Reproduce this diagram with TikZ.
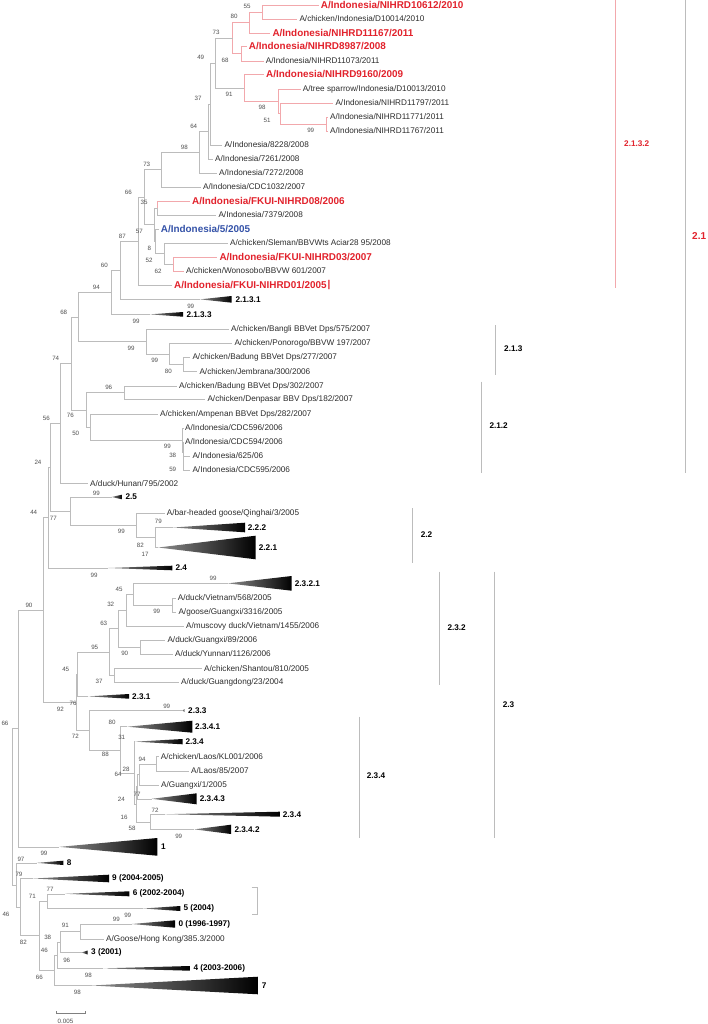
\documentclass[tikz,border=0pt]{standalone}
\usepackage{fontspec}
\setmainfont{Liberation Sans}
\definecolor{brg}{RGB}{188,188,188}
\definecolor{pk}{RGB}{242,168,172}
\definecolor{rd}{RGB}{226,34,44}
\definecolor{bl}{RGB}{52,82,168}
\definecolor{lt}{RGB}{45,45,45}
\definecolor{bt}{RGB}{80,80,80}
\newcommand\fLeaf{\fontsize{8.2}{9}\selectfont}
\newcommand\fBold{\fontsize{9.9}{11}\selectfont\bfseries}
\newcommand\fBs{\fontsize{6.2}{7}\selectfont}
\newcommand\fCl{\fontsize{8.2}{9}\selectfont\bfseries}
\newcommand\fBig{\fontsize{10}{11}\selectfont\bfseries}
\tikzset{
 br/.style={draw=brg, line width=0.6pt},
 pbr/.style={draw=pk, line width=0.6pt},
 lf/.style={anchor=west, inner sep=0pt, font=\fLeaf, text=lt},
 rlf/.style={anchor=west, inner sep=0pt, font=\fBold, text=rd},
 blf/.style={anchor=west, inner sep=0pt, font=\fBold, text=bl},
 bs/.style={inner sep=0pt, font=\fBs, text=bt},
 cl/.style={anchor=west, inner sep=0pt, font=\fCl, text=black},
 tri/.style={left color=black!45, middle color=black, right color=black},
}
\newcounter{bsc}
\newcommand\leaf[5]{\node[#1] (#2) at (#3,#4) {#5}; \coordinate (#2e) at ([xshift=-2pt]#2.west);}
\newcommand\clade[7]{%
 \coordinate (#1) at (#2,{(#4+#5)/2});
 \shade[tri] (#1) -- (#3,#4) -- (#3,#5) -- cycle;
 \node[cl] (#1l) at (#6,{(#4+#5)/2}) {#7};}
\newcommand\bsl[3]{\stepcounter{bsc}\node[bs] (bs\arabic{bsc}) at (#1,#2) {#3};}
\newcommand\ed[3]{\draw[#1] (#2) |- (#3);}
\begin{document}
\begin{tikzpicture}[x=1pt,y=-1pt]
\useasboundingbox (0,0) rectangle (707,1024);
\fill[white] (0,0) rectangle (707,1024);
% ---------- leaves ----------
\leaf{rlf}{l1}{320.7}{5}{A/Indonesia/NIHRD10612/2010}
\leaf{lf}{l2}{299.3}{19}{A/chicken/Indonesia/D10014/2010}
\leaf{rlf}{l3}{272.3}{33}{A/Indonesia/NIHRD11167/2011}
\leaf{rlf}{l4}{248.7}{46.5}{A/Indonesia/NIHRD8987/2008}
\leaf{lf}{l5}{265.7}{61}{A/Indonesia/NIHRD11073/2011}
\leaf{rlf}{l6}{266}{74.5}{A/Indonesia/NIHRD9160/2009}
\leaf{lf}{l7}{302.7}{89}{A/tree sparrow/Indonesia/D10013/2010}
\leaf{lf}{l8}{335.3}{103}{A/Indonesia/NIHRD11797/2011}
\leaf{lf}{l9}{330}{117}{A/Indonesia/NIHRD11771/2011}
\leaf{lf}{l10}{330}{131}{A/Indonesia/NIHRD11767/2011}
\leaf{lf}{l11}{224.3}{145}{A/Indonesia/8228/2008}
\leaf{lf}{l12}{215}{159}{A/Indonesia/7261/2008}
\leaf{lf}{l13}{219}{173}{A/Indonesia/7272/2008}
\leaf{lf}{l14}{203}{187}{A/Indonesia/CDC1032/2007}
\leaf{rlf}{l15}{192}{201}{A/Indonesia/FKUI-NIHRD08/2006}
\leaf{lf}{l16}{218.3}{215}{A/Indonesia/7379/2008}
\leaf{blf}{l17}{160.7}{229}{A/Indonesia/5/2005}
\leaf{lf}{l18}{230}{243}{A/chicken/Sleman/BBVWts Aciar28 95/2008}
\leaf{rlf}{l19}{219.3}{257}{A/Indonesia/FKUI-NIHRD03/2007}
\leaf{lf}{l20}{186}{271}{A/chicken/Wonosobo/BBVW 601/2007}
\leaf{rlf}{l21}{174}{285}{A/Indonesia/FKUI-NIHRD01/2005}
\node[rlf] (bar1) at (327.5,285) {\textbar};
\clade{t1}{200}{231.7}{296}{302.7}{235.3}{2.1.3.1}
\clade{t2}{150}{183}{312}{316.7}{186.3}{2.1.3.3}
\leaf{lf}{l22}{231}{329}{A/chicken/Bangli BBVet Dps/575/2007}
\leaf{lf}{l23}{234.3}{343}{A/chicken/Ponorogo/BBVW 197/2007}
\leaf{lf}{l24}{192.3}{357.7}{A/chicken/Badung BBVet Dps/277/2007}
\leaf{lf}{l25}{199.3}{371.7}{A/chicken/Jembrana/300/2006}
\leaf{lf}{l26}{179}{386}{A/chicken/Badung BBVet Dps/302/2007}
\leaf{lf}{l27}{207.3}{399.5}{A/chicken/Denpasar BBV Dps/182/2007}
\leaf{lf}{l28}{160}{414}{A/chicken/Ampenan BBVet Dps/282/2007}
\leaf{lf}{l29}{185}{428}{A/Indonesia/CDC596/2006}
\leaf{lf}{l30}{185}{442}{A/Indonesia/CDC594/2006}
\leaf{lf}{l31}{192.3}{456}{A/Indonesia/625/06}
\leaf{lf}{l32}{192.3}{470}{A/Indonesia/CDC595/2006}
\leaf{lf}{l33}{90}{483.5}{A/duck/Hunan/795/2002}
\clade{t3}{111.7}{122}{494.7}{499.3}{125.3}{2.5}
\leaf{lf}{l34}{166.7}{513}{A/bar-headed goose/Qinghai/3/2005}
\clade{t4}{173.3}{245}{522.7}{532.3}{247.7}{2.2.2}
\clade{t5}{158.3}{255.7}{535.7}{559.3}{258.7}{2.2.1}
\clade{t6}{108.3}{172.3}{565.7}{570.3}{175.3}{2.4}
\clade{t7}{227.7}{291.7}{576}{590.7}{294.7}{2.3.2.1}
\leaf{lf}{l35}{177.7}{598}{A/duck/Vietnam/568/2005}
\leaf{lf}{l36}{178.3}{612.3}{A/goose/Guangxi/3316/2005}
\leaf{lf}{l37}{186}{626.3}{A/muscovy duck/Vietnam/1455/2006}
\leaf{lf}{l38}{167.3}{640.3}{A/duck/Guangxi/89/2006}
\leaf{lf}{l39}{175}{654}{A/duck/Yunnan/1126/2006}
\leaf{lf}{l40}{204}{668.7}{A/chicken/Shantou/810/2005}
\leaf{lf}{l41}{181}{682.3}{A/duck/Guangdong/23/2004}
\clade{t8}{88.3}{129}{694}{698.7}{132}{2.3.1}
\clade{t9}{182.7}{184.3}{709}{712}{188}{2.3.3}
\clade{t10}{127.3}{192.3}{720.7}{732.7}{195}{2.3.4.1}
\clade{t11}{135}{182.7}{739}{744.3}{185.3}{2.3.4}
\leaf{lf}{l42}{160.7}{756.7}{A/chicken/Laos/KL001/2006}
\leaf{lf}{l43}{191}{771}{A/Laos/85/2007}
\leaf{lf}{l44}{161}{785}{A/Guangxi/1/2005}
\clade{t12}{151.7}{196.7}{793.3}{804.3}{199.7}{2.3.4.3}
\clade{t13}{165}{280}{811.7}{816.7}{282.7}{2.3.4}
\clade{t14}{194.3}{231}{824.7}{834}{234.3}{2.3.4.2}
\clade{t15}{59.3}{157.3}{838}{855.7}{161}{1}
\clade{t16}{36.7}{63.3}{860.7}{865}{66.7}{8}
\clade{t17}{33.3}{109}{874.7}{882.3}{112}{9 (2004-2005)}
\clade{t18}{65}{129.3}{891.3}{896.3}{132.7}{6 (2002-2004)}
\clade{t19}{143.3}{180.3}{906}{911}{183.3}{5 (2004)}
\clade{t20}{131.7}{175}{920.3}{927.7}{178.3}{0 (1996-1997)}
\leaf{lf}{l45}{106}{939.3}{A/Goose/Hong Kong/385.3/2000}
\clade{t21}{81.7}{87.7}{950.5}{954.5}{91}{3 (2001)}
\clade{t22}{103.3}{190}{966}{970.7}{193.3}{4 (2003-2006)}
\clade{t23}{91.7}{258.3}{976.7}{994.3}{261.7}{7}
% ---------- internal nodes ----------
\coordinate (A) at (262.3,12);
\coordinate (B) at (249.3,22.5);
\coordinate (D) at (241.7,53.75);
\coordinate (C) at (232.7,38.1);
\coordinate (I) at (326.7,124);
\coordinate (H) at (280,113.5);
\coordinate (G) at (278.3,101.25);
\coordinate (F) at (244.3,87.9);
\coordinate (E) at (215.7,63);
\coordinate (J) at (210,104);
\coordinate (K) at (208.3,131.5);
\coordinate (L) at (199.3,152.25);
\coordinate (M) at (161.7,169.6);
\coordinate (P) at (157.3,208);
\coordinate (S) at (173.3,264);
\coordinate (R) at (164.3,253.5);
\coordinate (Q2) at (155.5,241.25);
\coordinate (Q1) at (154,224.6);
\coordinate (N) at (144,197.1);
\coordinate (T) at (138,241.05);
\coordinate (U) at (120,270.2);
\coordinate (V) at (111,292.3);
\coordinate (Z) at (183.3,364.7);
\coordinate (Y) at (169.7,353.85);
\coordinate (X) at (146,341.4);
\coordinate (W) at (78.3,316.85);
\coordinate (BB) at (124.3,392.75);
\coordinate (CC3) at (183.5,463);
\coordinate (CC2) at (183,452.5);
\coordinate (CC1) at (182.7,440.25);
\coordinate (EE) at (90,427.1);
\coordinate (FF) at (86,409.9);
\coordinate (II) at (71.7,363.4);
\coordinate (HH) at (60.3,423.45);
\coordinate (MM) at (155.3,537.5);
\coordinate (LL) at (136.7,525.25);
\coordinate (KK) at (70.3,511.1);
\coordinate (JJ) at (50,467.3);
\coordinate (NN) at (48.3,517.65);
\coordinate (QQ) at (172.3,605.15);
\coordinate (PP) at (133.3,594.25);
\coordinate (RR) at (126,610.3);
\coordinate (TT) at (140,647.15);
\coordinate (SS) at (118.3,628.7);
\coordinate (VV) at (114.3,675.5);
\coordinate (UU) at (109.3,652.1);
\coordinate (WW) at (77.3,674.2);
\coordinate (CCC) at (156.7,763.85);
\coordinate (DDD) at (139.3,774.4);
\coordinate (EEE) at (137.7,786.6);
\coordinate (FFF) at (150.3,821.8);
\coordinate (GGG) at (136.3,804.2);
\coordinate (BBB) at (134.3,772.9);
\coordinate (ZZ) at (120,749.8);
\coordinate (YY) at (89.3,730.15);
\coordinate (XX) at (76,702.2);
\coordinate (OO) at (43.7,609.9);
\coordinate (QQQ) at (18.3,728.4);
\coordinate (N77) at (47.7,901.15);
\coordinate (N91) at (80,931.65);
\coordinate (N38) at (60,942.1);
\coordinate (N46) at (57.3,955.2);
\coordinate (N66) at (54,970.35);
\coordinate (TTT) at (39.3,935.75);
\coordinate (UUU) at (20,907.1);
\coordinate (VVV) at (16.7,884.95);
\coordinate (RRR) at (12.7,806.7);
% ---------- branches ----------
\ed{pbr}{A}{l1e} \ed{pbr}{A}{l2e}
\ed{pbr}{B}{A} \ed{pbr}{B}{l3e}
\ed{pbr}{D}{l4e} \ed{pbr}{D}{l5e}
\ed{pbr}{C}{B} \ed{pbr}{C}{D}
\ed{pbr}{I}{l9e} \ed{pbr}{I}{l10e}
\ed{pbr}{H}{l8e} \ed{pbr}{H}{I}
\ed{pbr}{G}{l7e} \ed{pbr}{G}{H}
\ed{pbr}{F}{l6e} \ed{pbr}{F}{G}
\ed{br}{E}{C} \ed{br}{E}{F}
\ed{br}{J}{E} \ed{br}{J}{l11e}
\ed{br}{K}{J} \ed{br}{K}{l12e}
\ed{br}{L}{K} \ed{br}{L}{l13e}
\ed{br}{M}{L} \ed{br}{M}{l14e}
\ed{pbr}{P}{l15e} \ed{br}{P}{l16e}
\ed{pbr}{S}{l19e} \ed{pbr}{S}{l20e}
\ed{br}{R}{l18e} \ed{br}{R}{S}
\ed{br}{Q2}{l17e} \ed{br}{Q2}{R}
\ed{br}{Q1}{P} \ed{br}{Q1}{Q2}
\ed{br}{N}{M} \ed{br}{N}{Q1}
\ed{br}{T}{N} \ed{br}{T}{l21e}
\ed{br}{U}{T} \ed{br}{U}{t1}
\ed{br}{V}{U} \ed{br}{V}{t2}
\ed{br}{Z}{l24e} \ed{br}{Z}{l25e}
\ed{br}{Y}{l23e} \ed{br}{Y}{Z}
\ed{br}{X}{l22e} \ed{br}{X}{Y}
\ed{br}{W}{V} \ed{br}{W}{X}
\ed{br}{BB}{l26e} \ed{br}{BB}{l27e}
\ed{br}{CC3}{l31e} \ed{br}{CC3}{l32e}
\ed{br}{CC2}{l30e} \ed{br}{CC2}{CC3}
\ed{br}{CC1}{l29e} \ed{br}{CC1}{CC2}
\ed{br}{EE}{l28e} \ed{br}{EE}{CC1}
\ed{br}{FF}{BB} \ed{br}{FF}{EE}
\ed{br}{II}{W} \ed{br}{II}{FF}
\ed{br}{HH}{II} \ed{br}{HH}{l33e}
\ed{br}{MM}{t4} \ed{br}{MM}{t5}
\ed{br}{LL}{l34e} \ed{br}{LL}{MM}
\ed{br}{KK}{t3} \ed{br}{KK}{LL}
\ed{br}{JJ}{HH} \ed{br}{JJ}{KK}
\ed{br}{NN}{JJ} \ed{br}{NN}{t6}
\ed{br}{QQ}{l35e} \ed{br}{QQ}{l36e}
\ed{br}{PP}{t7} \ed{br}{PP}{QQ}
\ed{br}{RR}{PP} \ed{br}{RR}{l37e}
\ed{br}{TT}{l38e} \ed{br}{TT}{l39e}
\ed{br}{SS}{RR} \ed{br}{SS}{TT}
\ed{br}{VV}{l40e} \ed{br}{VV}{l41e}
\ed{br}{UU}{SS} \ed{br}{UU}{VV}
\ed{br}{WW}{UU} \ed{br}{WW}{t8}
\ed{br}{CCC}{l42e} \ed{br}{CCC}{l43e}
\ed{br}{DDD}{CCC} \ed{br}{DDD}{l44e}
\ed{br}{EEE}{DDD} \ed{br}{EEE}{t12}
\ed{br}{FFF}{t13} \ed{br}{FFF}{t14}
\ed{br}{GGG}{EEE} \ed{br}{GGG}{FFF}
\ed{br}{BBB}{t11} \ed{br}{BBB}{GGG}
\ed{br}{ZZ}{t10} \ed{br}{ZZ}{BBB}
\ed{br}{YY}{t9} \ed{br}{YY}{ZZ}
\ed{br}{XX}{WW} \ed{br}{XX}{YY}
\ed{br}{OO}{NN} \ed{br}{OO}{XX}
\ed{br}{QQQ}{OO} \ed{br}{QQQ}{t15}
\ed{br}{N77}{t18} \ed{br}{N77}{t19}
\ed{br}{N91}{t20} \ed{br}{N91}{l45e}
\ed{br}{N38}{N91} \ed{br}{N38}{t21}
\ed{br}{N46}{N38} \ed{br}{N46}{t22}
\ed{br}{N66}{N46} \ed{br}{N66}{t23}
\ed{br}{TTT}{N77} \ed{br}{TTT}{N66}
\ed{br}{UUU}{t17} \ed{br}{UUU}{TTT}
\ed{br}{VVV}{t16} \ed{br}{VVV}{UUU}
\ed{br}{RRR}{QQQ} \ed{br}{RRR}{VVV}
% ---------- bootstrap values ----------
\bsl{247}{6.3}{55} \bsl{234}{16.7}{80} \bsl{216}{32}{73} \bsl{225}{60.7}{68}
\bsl{200.7}{57.7}{49} \bsl{229}{94.7}{91} \bsl{262}{107.7}{98} \bsl{267}{120.3}{51}
\bsl{310.7}{130.7}{99} \bsl{198}{98.7}{37} \bsl{193.7}{126}{64} \bsl{184.3}{147}{98}
\bsl{146.7}{164.3}{73} \bsl{128.3}{192.3}{66} \bsl{144}{202.7}{35} \bsl{139.3}{231}{57}
\bsl{149.3}{248}{8} \bsl{122.3}{236}{87} \bsl{149}{260}{52} \bsl{158}{271}{62}
\bsl{104.3}{265.3}{60} \bsl{96.3}{287}{94} \bsl{190.7}{306.3}{99} \bsl{63.7}{312}{68}
\bsl{136}{321.7}{99} \bsl{131}{348.3}{99} \bsl{154.7}{360.7}{99} \bsl{168.3}{371}{80}
\bsl{55.7}{358.3}{74} \bsl{108.7}{387.3}{96} \bsl{70.3}{415.7}{76} \bsl{46.3}{418.3}{56}
\bsl{75.7}{433.3}{50} \bsl{167.3}{446.3}{99} \bsl{172.7}{455.7}{38} \bsl{172.7}{469.7}{59}
\bsl{38}{462.3}{24} \bsl{96.3}{493.3}{99} \bsl{33.7}{512.7}{44} \bsl{53.3}{518.3}{77}
\bsl{121.3}{531.7}{99} \bsl{158.3}{521.7}{79} \bsl{140.3}{545}{82} \bsl{145}{554}{17}
\bsl{94}{575}{99} \bsl{213}{578.5}{99} \bsl{119}{589.3}{45} \bsl{110.7}{604.3}{32}
\bsl{29}{605}{90} \bsl{156.7}{611.7}{99} \bsl{103.7}{623.7}{63} \bsl{94.7}{647}{95}
\bsl{124.7}{653.7}{90} \bsl{65.7}{669.7}{45} \bsl{99}{681.7}{37} \bsl{73}{703.3}{76}
\bsl{60.3}{709}{92} \bsl{166.7}{706.7}{99} \bsl{112}{722.3}{80} \bsl{5}{723.3}{66}
\bsl{75.3}{736.7}{72} \bsl{121.7}{737.7}{31} \bsl{105.3}{754}{88} \bsl{142}{759}{94}
\bsl{126}{769.3}{28} \bsl{118}{774.3}{64} \bsl{137}{794.3}{77} \bsl{121.3}{799.3}{24}
\bsl{155}{810}{72} \bsl{124}{817.3}{16} \bsl{132}{828.7}{58} \bsl{178.7}{836.7}{99}
\bsl{44}{853.3}{99} \bsl{21}{859}{97} \bsl{19}{874}{79} \bsl{50}{889.3}{77}
\bsl{32.3}{896.7}{71} \bsl{6}{914}{46} \bsl{116.3}{919.3}{99} \bsl{127.7}{915.7}{99}
\bsl{65.3}{925.7}{91} \bsl{47.7}{937.7}{38} \bsl{23.3}{942.7}{82} \bsl{44.3}{950.3}{46}
\bsl{66.7}{960.3}{96} \bsl{88.3}{975.7}{98} \bsl{39.3}{977.3}{66} \bsl{77.3}{992}{98}
% ---------- clade brackets ----------
\draw[pbr] (615.7,0) -- (615.7,288.3);
\node[anchor=west, inner sep=0pt, font=\fCl, text=rd] (c2132) at (624,143.3) {2.1.3.2};
\draw[br] (685.3,0) -- (685.3,473.3);
\node[anchor=west, inner sep=0pt, font=\fBig, text=rd] (c21) at (692,236) {2.1};
\draw[br] (495.7,325) -- (495.7,375);
\node[cl] (c213) at (504,349) {2.1.3};
\draw[br] (481.7,381.7) -- (481.7,473.3);
\node[cl] (c212) at (489.3,426) {2.1.2};
\draw[br] (412.7,508.3) -- (412.7,563.3);
\node[cl] (c22) at (420.7,535) {2.2};
\draw[br] (439.3,571.7) -- (439.3,685);
\node[cl] (c232) at (447.3,627.7) {2.3.2};
\draw[br] (494.3,571.7) -- (494.3,838.3);
\node[cl] (c23) at (502.7,704.3) {2.3};
\draw[br] (359,716.7) -- (359,838.3);
\node[cl] (c234) at (366.7,776) {2.3.4};
\draw[br] (251.7,887.3) -- (257.3,887.3) -- (257.3,914.3) -- (251.7,914.3);
% ---------- scale bar ----------
\coordinate (sb1) at (56.7,1013);
\coordinate (sb2) at (85.7,1013);
\draw[draw=gray, line width=0.6pt] ([yshift=2pt]sb1) -- (sb1) -- (sb2) -- ([yshift=2pt]sb2);
\node[bs] (sbl) at (65.5,1021) {0.005};
\end{tikzpicture}
\end{document}
